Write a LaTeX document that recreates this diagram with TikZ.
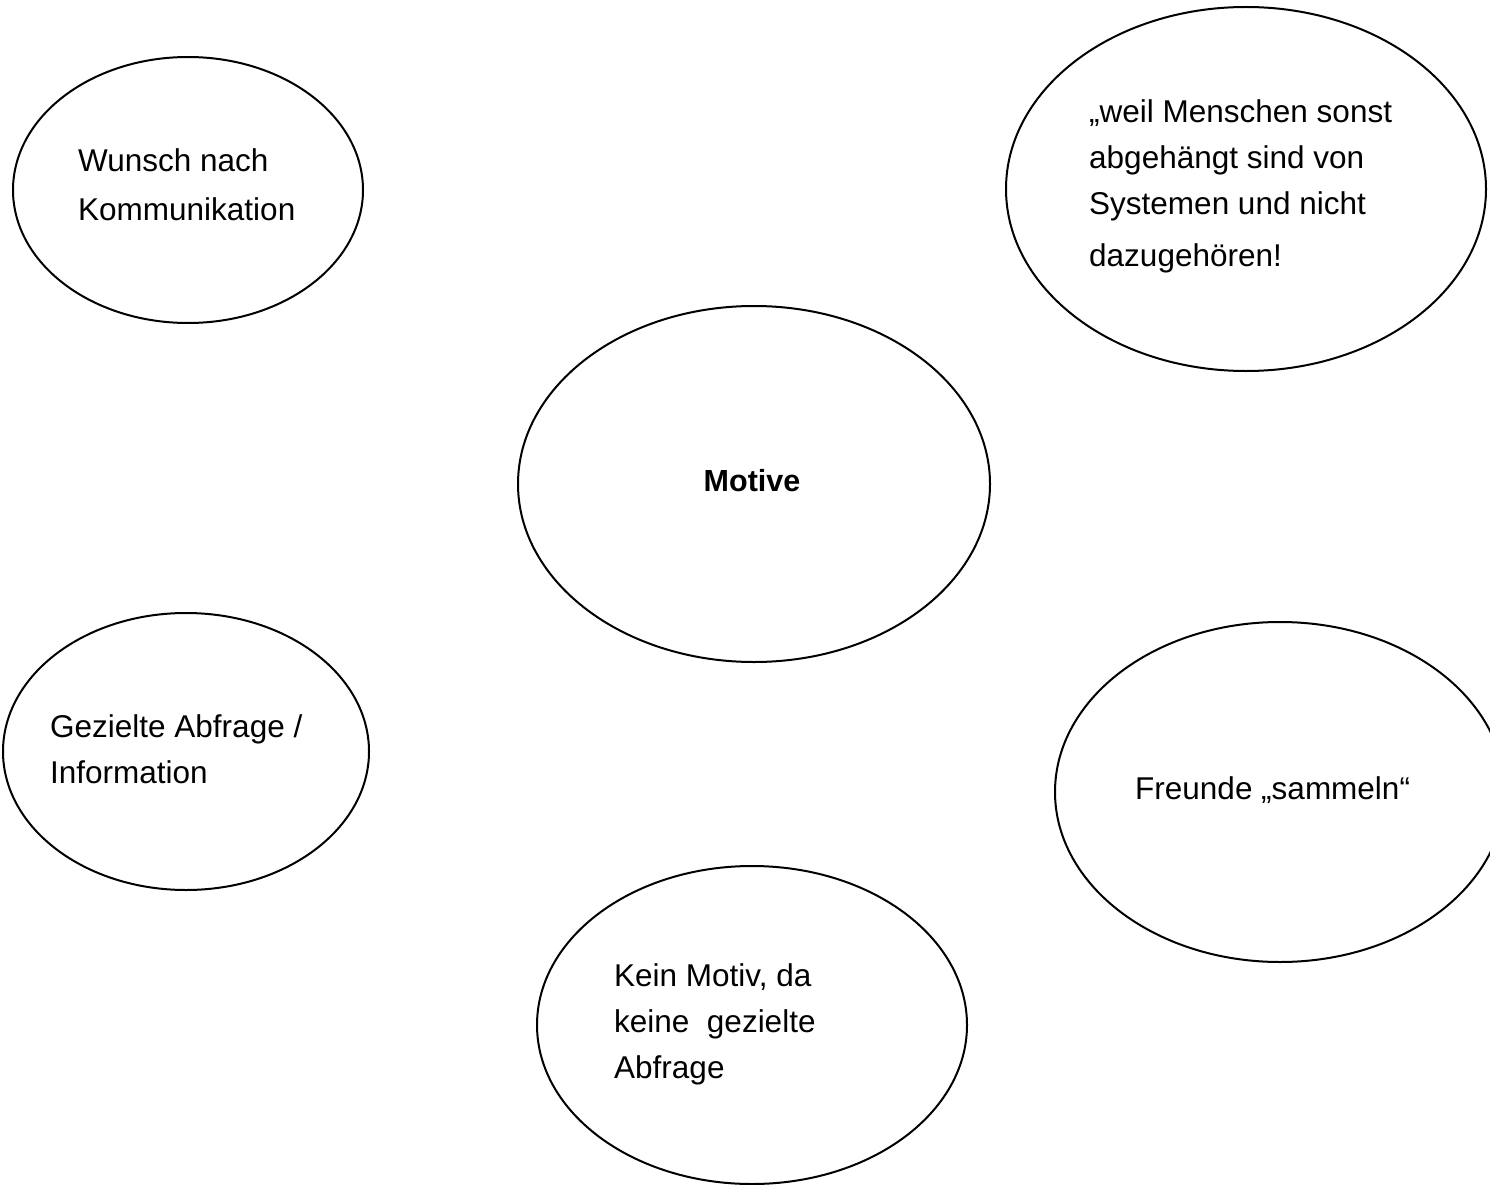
\documentclass[tikz,border=0pt]{standalone}
\usepackage{fontspec}
\setmainfont{Liberation Sans}
\usetikzlibrary{shapes.geometric}
\begin{document}
\begin{tikzpicture}[x=1pt,y=-1pt,
  bubble/.style={ellipse, draw=black, line width=2pt, inner sep=0pt},
  txt/.style={anchor=base west, align=left, inner sep=0pt,
    font=\fontsize{31.5}{46}\selectfont},
  boldtxt/.style={anchor=base, inner sep=0pt,
    font=\fontsize{30.5}{46}\selectfont\bfseries}]
\useasboundingbox[fill=white] (0,0) rectangle (1490,1185);
% ellipses
\node[bubble, minimum width=350pt, minimum height=266pt] (wunsch) at (188,190) {};
\node[bubble, minimum width=480pt, minimum height=364pt] (weil) at (1246,189) {};
\node[bubble, minimum width=472pt, minimum height=356pt] (motive) at (754,484) {};
\node[bubble, minimum width=366pt, minimum height=277pt] (gez) at (186,751.5) {};
\node[bubble, minimum width=450pt, minimum height=340pt] (freunde) at (1280,792) {};
\node[bubble, minimum width=430pt, minimum height=318pt] (kein) at (752,1025) {};
% texts (base anchor = baseline of the last line)
\node[txt] (twunsch) at (78,220) {Wunsch nach\\[2pt]Kommunikation};
\node[txt] (tweil) at (1089,266) {„weil Menschen sonst\\abgehängt sind von\\Systemen und nicht\\[6pt]dazugehören!};
\node[boldtxt] (tmotive) at (752,491) {Motive};
\node[txt] (tgez) at (50,783) {Gezielte Abfrage /\\Information};
\node[txt] (tfreunde) at (1135,799) {Freunde „sammeln“};
\node[txt] (tkein) at (614,1078) {Kein Motiv, da\\keine\ \ gezielte\\Abfrage};
\end{tikzpicture}
\end{document}
